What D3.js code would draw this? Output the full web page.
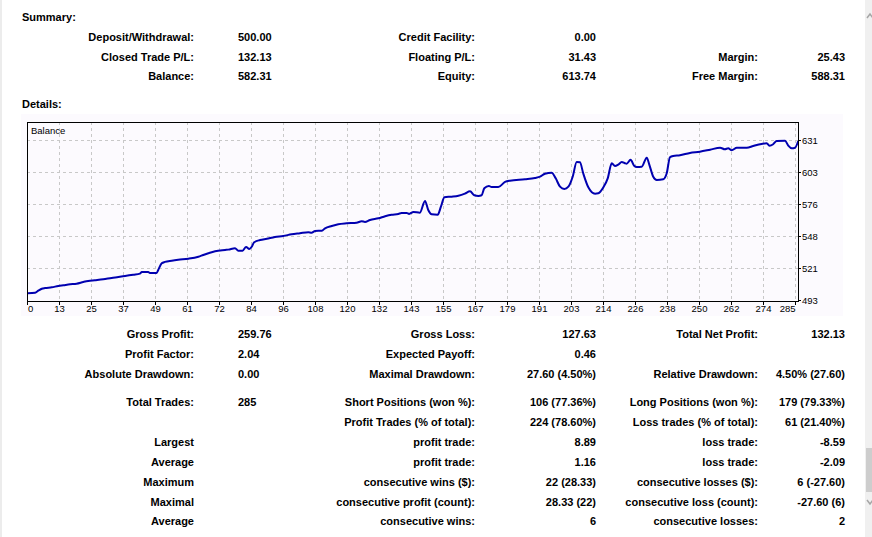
<!DOCTYPE html>
<html>
<head>
<meta charset="utf-8">
<script src="https://d3js.org/d3.v7.min.js"></script>
<style>
body { margin: 0; background: #fff; overflow: hidden; }
text { font-family: "Liberation Sans", Arial, sans-serif; fill: #000; }
</style>
</head>
<body>
<script>
// balance curve (trade number, balance)
var trades = [0.3, 3.0, 4.2, 5.5, 6.7, 9.2, 11.6, 13.5, 16.0, 18.4, 20.9, 22.7, 25.2, 28.3, 31.4, 33.9, 36.4, 39.4, 41.9, 42.6,
  45.0, 45.6, 48.1, 48.7, 50.0, 51.2, 53.7, 56.1, 59.9, 63.6, 65.4, 67.3, 69.8, 73.5, 74.7, 77.2, 78.4, 80.0, 81.3, 82.5,
  83.4, 84.3, 86.5, 89.0, 92.0, 95.1, 98.2, 101.3, 104.4, 105.6, 106.9, 109.4, 110.6, 113.1, 115.5, 118.6, 122.3, 124.2, 125.4, 127.3,
  130.4, 132.9, 135.3, 137.8, 139.0, 140.9, 141.8, 143.4, 145.8, 147.7, 148.9, 150.2, 152.4, 153.6, 154.9, 157.6, 160.1, 162.5, 164.4, 166.0,
  167.5, 168.7, 169.7, 171.4, 172.4, 174.9, 177.4, 179.2, 184.8, 188.5, 190.4, 192.2, 194.7, 196.2, 197.8, 199.4, 200.9, 202.5, 204.0, 205.2,
  206.4, 208.3, 210.8, 212.0, 213.9, 215.5, 217.0, 218.2, 219.4, 220.7, 221.9, 222.5, 224.0, 225.3, 226.3, 228.1, 230.0, 230.9, 232.4, 233.7,
  236.1, 237.4, 238.6, 239.8, 242.3, 246.0, 249.7, 253.5, 257.2, 259.0, 260.2, 261.5, 263.4, 267.1, 269.5, 272.6, 274.5, 275.5, 276.9, 278.2,
  281.3, 282.5, 283.8, 285.0, 286.2];
var balance = [499.3, 499.8, 501.5, 503.2, 503.8, 504.4, 505.6, 506.2, 507.0, 507.5, 509.0, 509.9, 510.5, 511.3, 512.5, 513.3, 514.2, 515.3, 516.2, 517.6,
  517.6, 516.8, 516.8, 519.4, 525.1, 526.3, 527.4, 528.2, 529.1, 530.8, 532.3, 533.8, 535.5, 536.6, 536.9, 538.1, 536.0, 536.0, 539.2, 537.5,
  539.4, 543.2, 545.2, 546.3, 547.8, 548.7, 550.1, 551.0, 551.9, 551.5, 553.0, 553.2, 555.3, 557.3, 558.8, 559.6, 560.1, 561.4, 560.8, 562.5,
  563.9, 565.7, 567.0, 567.7, 568.5, 568.5, 567.7, 569.4, 568.8, 578.9, 571.1, 567.4, 567.0, 573.9, 582.1, 582.6, 583.4, 585.2, 587.2, 583.8,
  583.2, 583.8, 589.8, 591.8, 590.9, 590.9, 595.3, 596.4, 597.6, 598.7, 599.8, 602.4, 603.3, 598.4, 591.2, 589.2, 591.2, 599.8, 612.5, 612.2,
  602.8, 590.7, 585.2, 585.5, 590.7, 598.4, 611.4, 609.0, 610.2, 612.5, 611.4, 611.0, 614.5, 609.3, 608.2, 608.4, 616.2, 610.5, 599.8, 597.0,
  597.6, 602.8, 616.6, 617.7, 618.3, 620.3, 621.4, 623.1, 624.8, 623.5, 624.3, 622.6, 624.8, 624.8, 626.3, 628.0, 628.6, 626.6, 627.8, 630.6,
  630.9, 626.6, 624.3, 624.8, 630.6];

var xTickLabels = ["0", "13", "25", "37", "49", "61", "72", "84", "96", "108", "120", "132", "143",
  "155", "167", "179", "191", "203", "214", "226", "238", "250", "262", "274", "285"];
var yTickValues = [493.2, 520.8, 548.4, 576.0, 603.6, 631.2];
var yTickLabels = ["493", "521", "548", "576", "603", "631"];

var summaryRows = [
  ["Deposit/Withdrawal:", "500.00", "Credit Facility:", "0.00", "", ""],
  ["Closed Trade P/L:", "132.13", "Floating P/L:", "31.43", "Margin:", "25.43"],
  ["Balance:", "582.31", "Equity:", "613.74", "Free Margin:", "588.31"]
];
var detailRows = [
  ["Gross Profit:", "259.76", "Gross Loss:", "127.63", "Total Net Profit:", "132.13"],
  ["Profit Factor:", "2.04", "Expected Payoff:", "0.46", "", ""],
  ["Absolute Drawdown:", "0.00", "Maximal Drawdown:", "27.60 (4.50%)", "Relative Drawdown:", "4.50% (27.60)"],
  ["Total Trades:", "285", "Short Positions (won %):", "106 (77.36%)", "Long Positions (won %):", "179 (79.33%)"],
  ["", "", "Profit Trades (% of total):", "224 (78.60%)", "Loss trades (% of total):", "61 (21.40%)"],
  ["Largest", "", "profit trade:", "8.89", "loss trade:", "-8.59"],
  ["Average", "", "profit trade:", "1.16", "loss trade:", "-2.09"],
  ["Maximum", "", "consecutive wins ($):", "22 (28.33)", "consecutive losses ($):", "6 (-27.60)"],
  ["Maximal", "", "consecutive profit (count):", "28.33 (22)", "consecutive loss (count):", "-27.60 (6)"],
  ["Average", "", "consecutive wins:", "6", "consecutive losses:", "2"]
];

var w = 872, h = 537;
var svg = d3.select("body").append("svg").attr("width", w).attr("height", h);

// window edges
svg.append("rect").attr("x", 0).attr("y", 0).attr("width", 2).attr("height", h).attr("fill", "#ececec");
svg.append("rect").attr("x", 865).attr("y", 0).attr("width", 7).attr("height", h).attr("fill", "#f0f0f0");
svg.append("rect").attr("x", 866).attr("y", 448).attr("width", 6).attr("height", 44).attr("fill", "#cdcdcd");
svg.append("path").attr("d", "M867,18L870,14L873,18").attr("fill", "none").attr("stroke", "#a6a6a6").attr("stroke-width", 1.5);
svg.append("path").attr("d", "M867,500L870,504L873,500").attr("fill", "none").attr("stroke", "#a6a6a6").attr("stroke-width", 1.5);

// tables
var colX = [194, 238, 475, 596, 758, 845];
var colAnchor = ["end", "start", "end", "end", "end", "end"];
function drawRows(rows, ys) {
  rows.forEach(function(r, i) {
    r.forEach(function(s, j) {
      if (!s) return;
      svg.append("text").attr("x", colX[j]).attr("y", ys[i] + 4)
        .attr("text-anchor", colAnchor[j]).attr("font-size", "11px").attr("font-weight", "bold").text(s);
    });
  });
}
svg.append("text").attr("x", 22).attr("y", 21).attr("font-size", "11px").attr("font-weight", "bold").text("Summary:");
svg.append("text").attr("x", 22).attr("y", 108).attr("font-size", "11px").attr("font-weight", "bold").text("Details:");
drawRows(summaryRows, [37, 57, 76]);
drawRows(detailRows, [334, 354, 374, 402, 422, 442, 462, 482, 502, 521]);

// chart
var L = 27, R = 798, T = 122, B = 301;
svg.append("rect").attr("x", 21).attr("y", 114).attr("width", 822).attr("height", 202).attr("fill", "#fcfafe");

var xScale = d3.scaleLinear().domain([0, 285]).range([L, 795]);
var yScale = d3.scaleLinear().domain([493.2, 631.2]).range([300.3, 140.3]);
var xTickValues = xTickLabels.map(function(d, i) { return i * 285 / (xTickLabels.length - 1); });

var grid = svg.append("g").attr("stroke", "#c8c8c8").attr("stroke-dasharray", "3,3").attr("stroke-width", 1);
xTickValues.slice(1).forEach(function(v) {
  var x = Math.round(xScale(v)) + 0.5;
  grid.append("line").attr("x1", x).attr("x2", x).attr("y1", T).attr("y2", B);
});
yTickValues.slice(1).forEach(function(v) {
  var y = Math.round(yScale(v)) + 0.5;
  grid.append("line").attr("x1", L).attr("x2", R).attr("y1", y).attr("y2", y);
});

var line = d3.line()
  .x(function(d, i) { return xScale(trades[i]); })
  .y(function(d) { return yScale(d); })
  .curve(d3.curveMonotoneX);
svg.append("path").attr("d", line(balance)).attr("fill", "none")
  .attr("stroke", "#0000b0").attr("stroke-width", 2).attr("stroke-linejoin", "round");

svg.append("rect").attr("x", L + 0.5).attr("y", T + 0.5).attr("width", R - L).attr("height", B - T)
  .attr("fill", "none").attr("stroke", "#000").attr("stroke-width", 1);

svg.append("text").attr("x", 31).attr("y", 134).attr("font-size", "9.5px").text("Balance");

// bottom axis
xTickValues.forEach(function(v, i) {
  var x = Math.round(xScale(v)) + 0.5;
  svg.append("line").attr("x1", x).attr("x2", x).attr("y1", B + 1).attr("y2", B + 4).attr("stroke", "#000");
  var anchor = i === 0 ? "start" : (i === xTickValues.length - 1 ? "end" : "middle");
  svg.append("text").attr("x", i === 0 ? L + 1 : x).attr("y", B + 11)
    .attr("text-anchor", anchor).attr("font-size", "9.5px").text(xTickLabels[i]);
});

// right axis
yTickValues.forEach(function(v, i) {
  var y = Math.round(yScale(v)) + 0.5;
  svg.append("line").attr("x1", R + 1).attr("x2", R + 3).attr("y1", y).attr("y2", y).attr("stroke", "#000");
  svg.append("text").attr("x", R + 4).attr("y", y + 3.5).attr("font-size", "9.5px").text(yTickLabels[i]);
});
</script>
</body>
</html>
